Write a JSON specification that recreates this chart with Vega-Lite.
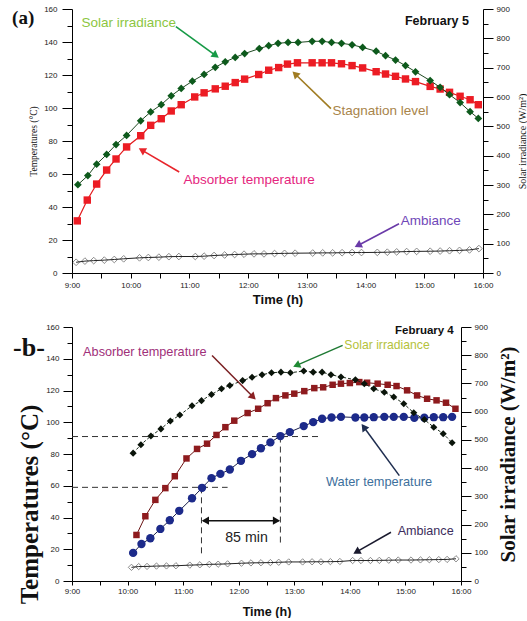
{
"$schema": "https://vega.github.io/schema/vega-lite/v6.json",
"padding": {"left": 12, "top": 5, "right": 0, "bottom": 0},
"spacing": 17,
"config": {"view": {"stroke": null}, "axis": {"grid": false, "domainColor": "#000", "tickColor": "#000", "labelFont": "Liberation Sans", "labelFontSize": 8, "labelColor": "#222", "labelFlush": false, "labelOverlap": false}, "text": {"font": "Liberation Sans"}},
"datasets": {
"ambA": [{"h":9.07,"T":6.5},{"h":9.22,"T":7.2},{"h":9.37,"T":7.5},{"h":9.55,"T":7.8},{"h":9.72,"T":8.2},{"h":9.88,"T":8.6},{"h":10.15,"T":9.2},{"h":10.3,"T":9.4},{"h":10.48,"T":9.6},{"h":10.65,"T":9.9},{"h":10.82,"T":10.0},{"h":11.1,"T":10.0},{"h":11.25,"T":10.2},{"h":11.42,"T":10.6},{"h":11.6,"T":10.9},{"h":11.77,"T":11.2},{"h":11.93,"T":11.4},{"h":12.1,"T":11.6},{"h":12.27,"T":11.6},{"h":12.45,"T":11.8},{"h":12.62,"T":11.9},{"h":12.8,"T":12.0},{"h":13.1,"T":12.1},{"h":13.27,"T":12.2},{"h":13.44,"T":12.2},{"h":13.6,"T":12.3},{"h":13.77,"T":12.4},{"h":13.93,"T":12.4},{"h":14.2,"T":12.5},{"h":14.37,"T":12.6},{"h":14.53,"T":12.8},{"h":14.7,"T":13.0},{"h":14.87,"T":13.1},{"h":15.1,"T":13.2},{"h":15.27,"T":13.3},{"h":15.43,"T":13.5},{"h":15.6,"T":13.7},{"h":15.77,"T":14.0},{"h":15.93,"T":14.8}],
"absA": [{"h":9.09,"T":31.6},{"h":9.26,"T":44.2},{"h":9.42,"T":53.9},{"h":9.59,"T":62.4},{"h":9.75,"T":69.1},{"h":9.93,"T":76.4},{"h":10.17,"T":83.2},{"h":10.34,"T":89.5},{"h":10.52,"T":93.5},{"h":10.69,"T":98.2},{"h":10.86,"T":102},{"h":11.09,"T":106.7},{"h":11.25,"T":109.2},{"h":11.44,"T":111.6},{"h":11.61,"T":113.2},{"h":11.78,"T":115.4},{"h":11.94,"T":117.5},{"h":12.18,"T":120.3},{"h":12.35,"T":122.9},{"h":12.52,"T":124.5},{"h":12.67,"T":126.6},{"h":12.84,"T":127.4},{"h":13.09,"T":127.4},{"h":13.26,"T":127.4},{"h":13.42,"T":127.4},{"h":13.59,"T":126.8},{"h":13.77,"T":125.7},{"h":13.95,"T":124.3},{"h":14.18,"T":122},{"h":14.34,"T":120.6},{"h":14.51,"T":119.2},{"h":14.68,"T":117.6},{"h":14.85,"T":116},{"h":15.1,"T":113.1},{"h":15.27,"T":111.5},{"h":15.43,"T":109.5},{"h":15.61,"T":107.1},{"h":15.78,"T":105},{"h":15.92,"T":102}],
"irrA": [{"h":9.1,"I":301},{"h":9.27,"I":332},{"h":9.42,"I":371},{"h":9.59,"I":404},{"h":9.75,"I":438},{"h":9.93,"I":469},{"h":10.17,"I":519},{"h":10.34,"I":549},{"h":10.52,"I":574},{"h":10.69,"I":604},{"h":10.86,"I":629},{"h":11.05,"I":654},{"h":11.25,"I":677},{"h":11.44,"I":701},{"h":11.61,"I":720},{"h":11.78,"I":735},{"h":11.94,"I":748},{"h":12.19,"I":765},{"h":12.35,"I":775},{"h":12.51,"I":783},{"h":12.68,"I":786},{"h":12.85,"I":786},{"h":13.09,"I":790},{"h":13.26,"I":790},{"h":13.42,"I":786},{"h":13.59,"I":783},{"h":13.77,"I":778},{"h":13.95,"I":769},{"h":14.18,"I":756},{"h":14.34,"I":741},{"h":14.51,"I":726},{"h":14.68,"I":707},{"h":14.85,"I":686},{"h":15.1,"I":656},{"h":15.27,"I":633},{"h":15.43,"I":608},{"h":15.61,"I":581},{"h":15.78,"I":550},{"h":15.92,"I":527}],
"ambB": [{"h":10.07,"T":8.6},{"h":10.2,"T":9.1},{"h":10.35,"T":9.2},{"h":10.52,"T":9.4},{"h":10.7,"T":9.5},{"h":10.87,"T":9.6},{"h":11.12,"T":10.0},{"h":11.3,"T":10.2},{"h":11.47,"T":10.5},{"h":11.63,"T":10.6},{"h":11.8,"T":10.8},{"h":12.05,"T":11.2},{"h":12.22,"T":11.4},{"h":12.4,"T":11.5},{"h":12.57,"T":11.6},{"h":12.72,"T":11.8},{"h":12.9,"T":12.0},{"h":13.15,"T":12.0},{"h":13.32,"T":12.1},{"h":13.48,"T":12.1},{"h":13.65,"T":12.2},{"h":13.82,"T":12.3},{"h":14.05,"T":12.9},{"h":14.2,"T":12.9},{"h":14.37,"T":12.9},{"h":14.53,"T":13.0},{"h":14.7,"T":13.1},{"h":14.87,"T":13.2},{"h":15.1,"T":13.2},{"h":15.27,"T":13.3},{"h":15.43,"T":13.4},{"h":15.6,"T":13.5},{"h":15.75,"T":13.6},{"h":15.91,"T":14.0}],
"absB": [{"h":10.16,"T":29.0},{"h":10.32,"T":40.8},{"h":10.5,"T":51.1},{"h":10.68,"T":58.5},{"h":10.85,"T":66},{"h":11.06,"T":77.2},{"h":11.25,"T":83.2},{"h":11.43,"T":86.5},{"h":11.6,"T":92},{"h":11.76,"T":96.9},{"h":11.92,"T":101},{"h":12.16,"T":105.8},{"h":12.35,"T":108.5},{"h":12.52,"T":112},{"h":12.67,"T":115.2},{"h":12.84,"T":116.9},{"h":13.0,"T":118},{"h":13.18,"T":119.6},{"h":13.36,"T":121.5},{"h":13.52,"T":122},{"h":13.69,"T":123.6},{"h":13.84,"T":124.3},{"h":14.0,"T":124.7},{"h":14.17,"T":125.3},{"h":14.31,"T":124.9},{"h":14.5,"T":124.3},{"h":14.68,"T":123.6},{"h":14.84,"T":122.8},{"h":15.03,"T":120.1},{"h":15.21,"T":116.9},{"h":15.39,"T":114.8},{"h":15.56,"T":113.8},{"h":15.73,"T":112.3},{"h":15.9,"T":108.5}],
"watB": [{"h":10.1,"T":17.7},{"h":10.25,"T":23.3},{"h":10.41,"T":26.9},{"h":10.59,"T":32.8},{"h":10.76,"T":38.3},{"h":10.93,"T":44.2},{"h":11.16,"T":52.1},{"h":11.34,"T":58.7},{"h":11.51,"T":64.8},{"h":11.67,"T":67.5},{"h":11.84,"T":70.2},{"h":12.04,"T":75.7},{"h":12.24,"T":79.9},{"h":12.4,"T":83.6},{"h":12.57,"T":87.3},{"h":12.75,"T":91.3},{"h":12.92,"T":93.8},{"h":13.17,"T":97.6},{"h":13.34,"T":100.1},{"h":13.5,"T":102.2},{"h":13.67,"T":103},{"h":13.84,"T":103.4},{"h":14.1,"T":103},{"h":14.26,"T":103},{"h":14.43,"T":103.2},{"h":14.62,"T":103.4},{"h":14.79,"T":103.4},{"h":14.97,"T":103.4},{"h":15.16,"T":102.8},{"h":15.34,"T":102.8},{"h":15.51,"T":103.2},{"h":15.68,"T":103.2},{"h":15.84,"T":103.4}],
"irrB": [{"h":10.1,"I":453},{"h":10.24,"I":483},{"h":10.42,"I":514},{"h":10.6,"I":539},{"h":10.77,"I":567},{"h":10.94,"I":588},{"h":11.16,"I":621},{"h":11.33,"I":639},{"h":11.51,"I":661},{"h":11.69,"I":681},{"h":11.84,"I":693},{"h":12.07,"I":710},{"h":12.24,"I":722},{"h":12.42,"I":731},{"h":12.59,"I":738},{"h":12.76,"I":740},{"h":12.93,"I":738},{"h":13.17,"I":744},{"h":13.34,"I":740},{"h":13.5,"I":740},{"h":13.66,"I":731},{"h":13.84,"I":723},{"h":14.1,"I":713},{"h":14.26,"I":699},{"h":14.43,"I":681},{"h":14.62,"I":669},{"h":14.79,"I":652},{"h":14.97,"I":628},{"h":15.15,"I":596},{"h":15.34,"I":572},{"h":15.51,"I":545},{"h":15.68,"I":522},{"h":15.84,"I":490}]
},
"vconcat": [
{
"width": 411, "height": 264,
"resolve": {"scale": {"y": "independent"}},
"layer": [
{"layer": [
{"data": {"name": "ambA"}, "mark": {"type": "line", "color": "#222", "strokeWidth": 1},
 "encoding": {
  "x": {"field": "h", "type": "quantitative", "scale": {"domain": [9, 16]}, "axis": {"title": "Time (h)", "tickCount": 200, "values": [9,9.5,10,10.5,11,11.5,12,12.5,13,13.5,14,14.5,15,15.5,16], "labelExpr": "datum.value % 1 === 0 ? datum.value + ':00' : ''", "labelOverlap": false, "tickSize": 5, "labelPadding": 3, "titleFont": "Liberation Sans", "titleFontWeight": "bold", "titleFontSize": 13, "titlePadding": 4, "titleColor": "#111"}},
  "y": {"field": "T", "type": "quantitative", "scale": {"domain": [0, 160]}, "axis": {"title": "Temperatures (°C)", "tickCount": 200, "values": [0,10,20,30,40,50,60,70,80,90,100,110,120,130,140,150,160], "labelExpr": "datum.value % 20 === 0 ? datum.label : ''", "labelOverlap": false, "tickSize": {"condition": {"test": "datum.value % 20 === 0", "value": 10}, "value": 5}, "labelPadding": 5, "titleFont": "Liberation Serif", "titleFontWeight": "normal", "titleFontSize": 9.5, "titlePadding": 5, "titleColor": "#111"}}
 }},
{"data": {"name": "ambA"}, "mark": {"type": "point", "shape": "diamond", "filled": false, "color": "#333", "size": 45, "strokeWidth": 0.8},
 "encoding": {"x": {"field": "h", "type": "quantitative"}, "y": {"field": "T", "type": "quantitative"}}},
{"data": {"name": "absA"}, "mark": {"type": "line", "color": "#e3191c", "strokeWidth": 1.2},
 "encoding": {"x": {"field": "h", "type": "quantitative"}, "y": {"field": "T", "type": "quantitative"}}},
{"data": {"name": "absA"}, "mark": {"type": "square", "color": "#ec1c24", "size": 55, "opacity": 1},
 "encoding": {"x": {"field": "h", "type": "quantitative"}, "y": {"field": "T", "type": "quantitative"}}},
{"data": {"values": [{"h": 10.77, "T": 149.3, "h2": 11.45, "T2": 131.8}]}, "mark": {"type": "rule", "strokeWidth": 1.6, "color": "#169a46"},
 "encoding": {"x": {"field": "h", "type": "quantitative"}, "y": {"field": "T", "type": "quantitative"}, "x2": {"field": "h2"}, "y2": {"field": "T2"}}},
{"data": {"values": [{"h": 13.41, "T": 99.6, "h2": 12.8, "T2": 120.6}]}, "mark": {"type": "rule", "strokeWidth": 1.6, "color": "#a07c22"},
 "encoding": {"x": {"field": "h", "type": "quantitative"}, "y": {"field": "T", "type": "quantitative"}, "x2": {"field": "h2"}, "y2": {"field": "T2"}}},
{"data": {"values": [{"h": 10.826, "T": 61.2, "h2": 10.19, "T2": 74.5}]}, "mark": {"type": "rule", "strokeWidth": 1.6, "color": "#e8252b"},
 "encoding": {"x": {"field": "h", "type": "quantitative"}, "y": {"field": "T", "type": "quantitative"}, "x2": {"field": "h2"}, "y2": {"field": "T2"}}},
{"data": {"values": [{"h": 14.57, "T": 29.8, "h2": 13.87, "T2": 16.7}]}, "mark": {"type": "rule", "strokeWidth": 1.6, "color": "#6a3aa8"},
 "encoding": {"x": {"field": "h", "type": "quantitative"}, "y": {"field": "T", "type": "quantitative"}, "x2": {"field": "h2"}, "y2": {"field": "T2"}}},
{"data": {"values": [{"h": 11.45, "T": 131.8}]}, "mark": {"type": "point", "shape": "triangle-up", "filled": true, "color": "#169a46", "size": 70, "angle": 125.6, "opacity": 1},
 "encoding": {"x": {"field": "h", "type": "quantitative"}, "y": {"field": "T", "type": "quantitative"}}},
{"data": {"values": [{"h": 12.8, "T": 120.6}]}, "mark": {"type": "point", "shape": "triangle-up", "filled": true, "color": "#a07c22", "size": 70, "angle": 314, "opacity": 1},
 "encoding": {"x": {"field": "h", "type": "quantitative"}, "y": {"field": "T", "type": "quantitative"}}},
{"data": {"values": [{"h": 10.19, "T": 74.5}]}, "mark": {"type": "point", "shape": "triangle-up", "filled": true, "color": "#e8252b", "size": 70, "angle": 300.5, "opacity": 1},
 "encoding": {"x": {"field": "h", "type": "quantitative"}, "y": {"field": "T", "type": "quantitative"}}},
{"data": {"values": [{"h": 13.87, "T": 16.7}]}, "mark": {"type": "point", "shape": "triangle-up", "filled": true, "color": "#6a3aa8", "size": 70, "angle": 242.6, "opacity": 1},
 "encoding": {"x": {"field": "h", "type": "quantitative"}, "y": {"field": "T", "type": "quantitative"}}},
{"data": {"values": [{"h": 9.16, "T": 151.3, "label": "Solar irradiance"}]}, "mark": {"type": "text", "align": "left", "baseline": "middle", "fontSize": 13.5, "color": "#8cc63f"},
 "encoding": {"x": {"field": "h", "type": "quantitative"}, "y": {"field": "T", "type": "quantitative"}, "text": {"field": "label"}}},
{"data": {"values": [{"h": 15.76, "T": 153, "label": "February 5"}]}, "mark": {"type": "text", "align": "right", "baseline": "middle", "fontSize": 12.5, "fontWeight": "bold", "color": "#111"},
 "encoding": {"x": {"field": "h", "type": "quantitative"}, "y": {"field": "T", "type": "quantitative"}, "text": {"field": "label"}}},
{"data": {"values": [{"h": 13.435, "T": 97.9, "label": "Stagnation level"}]}, "mark": {"type": "text", "align": "left", "baseline": "middle", "fontSize": 13.5, "color": "#a8844a"},
 "encoding": {"x": {"field": "h", "type": "quantitative"}, "y": {"field": "T", "type": "quantitative"}, "text": {"field": "label"}}},
{"data": {"values": [{"h": 10.9, "T": 56.5, "label": "Absorber temperature"}]}, "mark": {"type": "text", "align": "left", "baseline": "middle", "fontSize": 13.5, "color": "#e5267e"},
 "encoding": {"x": {"field": "h", "type": "quantitative"}, "y": {"field": "T", "type": "quantitative"}, "text": {"field": "label"}}},
{"data": {"values": [{"h": 14.6, "T": 31.8, "label": "Ambiance"}]}, "mark": {"type": "text", "align": "left", "baseline": "middle", "fontSize": 13.5, "color": "#7048b8"},
 "encoding": {"x": {"field": "h", "type": "quantitative"}, "y": {"field": "T", "type": "quantitative"}, "text": {"field": "label"}}},
{"data": {"values": [{"h": 7.98, "T": 154.3, "label": "(a)"}]}, "mark": {"type": "text", "align": "left", "baseline": "middle", "fontSize": 19, "fontWeight": "bold", "font": "Liberation Serif", "color": "#111"},
 "encoding": {"x": {"field": "h", "type": "quantitative"}, "y": {"field": "T", "type": "quantitative"}, "text": {"field": "label"}}}
]},
{"layer": [
{"data": {"name": "irrA"}, "mark": {"type": "line", "color": "#1f4a22", "strokeWidth": 1},
 "encoding": {"x": {"field": "h", "type": "quantitative"},
  "y": {"field": "I", "type": "quantitative", "scale": {"domain": [0, 900]}, "axis": {"orient": "right", "title": "Solar irradiance (W/m²)", "titleAngle": 270, "titleBaseline": "top", "tickCount": 200, "values": [0,50,100,150,200,250,300,350,400,450,500,550,600,650,700,750,800,850,900], "labelExpr": "datum.value % 100 === 0 ? datum.label : ''", "labelOverlap": false, "tickSize": {"condition": {"test": "datum.value % 100 === 0", "value": 10}, "value": 5}, "labelPadding": 3, "titleFont": "Liberation Serif", "titleFontWeight": "normal", "titleFontSize": 10, "titlePadding": 8, "titleColor": "#111"}}}},
{"data": {"name": "irrA"}, "mark": {"type": "point", "shape": "diamond", "filled": true, "color": "#0d5a1c", "size": 60, "opacity": 1},
 "encoding": {"x": {"field": "h", "type": "quantitative"}, "y": {"field": "I", "type": "quantitative"}}}
]}
]
},
{
"width": 389, "height": 254,
"resolve": {"scale": {"y": "independent"}},
"layer": [
{"layer": [
{"data": {"values": [{"h": 9, "T": 91, "h2": 13.47, "T2": 91}, {"h": 9, "T": 59, "h2": 11.8, "T2": 59}, {"h": 11.33, "T": 59, "h2": 11.33, "T2": 16}, {"h": 12.75, "T": 91, "h2": 12.75, "T2": 23.3}]},
 "mark": {"type": "rule", "color": "#333", "strokeWidth": 1, "strokeDash": [6, 4]},
 "encoding": {
  "x": {"field": "h", "type": "quantitative", "scale": {"domain": [9, 16]}, "axis": {"title": "Time (h)", "tickCount": 200, "values": [9,9.5,10,10.5,11,11.5,12,12.5,13,13.5,14,14.5,15,15.5,16], "labelExpr": "datum.value % 1 === 0 ? datum.value + ':00' : ''", "labelOverlap": false, "tickSize": 4, "labelPadding": 2, "titleFont": "Liberation Sans", "titleFontWeight": "bold", "titleFontSize": 12.6, "titlePadding": 10, "titleColor": "#111"}},
  "y": {"field": "T", "type": "quantitative", "scale": {"domain": [0, 160]}, "axis": {"title": "Temperatures (°C)", "tickCount": 200, "values": [0,10,20,30,40,50,60,70,80,90,100,110,120,130,140,150,160], "labelExpr": "datum.value % 20 === 0 ? datum.label : ''", "labelOverlap": false, "tickSize": {"condition": {"test": "datum.value % 20 === 0", "value": 9}, "value": 5}, "labelPadding": 4, "titleFont": "Liberation Serif", "titleFontWeight": "bold", "titleFontSize": 25, "titlePadding": 3, "titleY": 177, "titleColor": "#111"}},
  "x2": {"field": "h2"}, "y2": {"field": "T2"}
 }},
{"data": {"name": "ambB"}, "mark": {"type": "line", "color": "#222", "strokeWidth": 1},
 "encoding": {"x": {"field": "h", "type": "quantitative"}, "y": {"field": "T", "type": "quantitative"}}},
{"data": {"name": "ambB"}, "mark": {"type": "point", "shape": "diamond", "filled": false, "color": "#333", "size": 40, "strokeWidth": 0.8},
 "encoding": {"x": {"field": "h", "type": "quantitative"}, "y": {"field": "T", "type": "quantitative"}}},
{"data": {"name": "absB"}, "mark": {"type": "line", "color": "#6b1414", "strokeWidth": 1},
 "encoding": {"x": {"field": "h", "type": "quantitative"}, "y": {"field": "T", "type": "quantitative"}}},
{"data": {"name": "absB"}, "mark": {"type": "square", "color": "#8e1b1e", "size": 42, "opacity": 1},
 "encoding": {"x": {"field": "h", "type": "quantitative"}, "y": {"field": "T", "type": "quantitative"}}},
{"data": {"name": "watB"}, "mark": {"type": "line", "color": "#1a1f4a", "strokeWidth": 1},
 "encoding": {"x": {"field": "h", "type": "quantitative"}, "y": {"field": "T", "type": "quantitative"}}},
{"data": {"name": "watB"}, "mark": {"type": "circle", "color": "#1c2a8a", "size": 70, "opacity": 1},
 "encoding": {"x": {"field": "h", "type": "quantitative"}, "y": {"field": "T", "type": "quantitative"}}},
{"data": {"values": [{"h": 11.52, "T": 142.1, "h2": 12.26, "T2": 115.9}]}, "mark": {"type": "rule", "strokeWidth": 1.5, "color": "#7a1f22"},
 "encoding": {"x": {"field": "h", "type": "quantitative"}, "y": {"field": "T", "type": "quantitative"}, "x2": {"field": "h2"}, "y2": {"field": "T2"}}},
{"data": {"values": [{"h": 13.87, "T": 148.4, "h2": 13.04, "T2": 135.8}]}, "mark": {"type": "rule", "strokeWidth": 1.5, "color": "#1f7a34"},
 "encoding": {"x": {"field": "h", "type": "quantitative"}, "y": {"field": "T", "type": "quantitative"}, "x2": {"field": "h2"}, "y2": {"field": "T2"}}},
{"data": {"values": [{"h": 14.89, "T": 66.4, "h2": 14.25, "T2": 97.0}]}, "mark": {"type": "rule", "strokeWidth": 1.5, "color": "#1e2d4f"},
 "encoding": {"x": {"field": "h", "type": "quantitative"}, "y": {"field": "T", "type": "quantitative"}, "x2": {"field": "h2"}, "y2": {"field": "T2"}}},
{"data": {"values": [{"h": 14.74, "T": 30.7, "h2": 14.12, "T2": 18.3}]}, "mark": {"type": "rule", "strokeWidth": 1.5, "color": "#1a1a2e"},
 "encoding": {"x": {"field": "h", "type": "quantitative"}, "y": {"field": "T", "type": "quantitative"}, "x2": {"field": "h2"}, "y2": {"field": "T2"}}},
{"data": {"values": [{"h": 11.36, "T": 38, "h2": 12.72, "T2": 38}]}, "mark": {"type": "rule", "strokeWidth": 1.5, "color": "#111"},
 "encoding": {"x": {"field": "h", "type": "quantitative"}, "y": {"field": "T", "type": "quantitative"}, "x2": {"field": "h2"}, "y2": {"field": "T2"}}},
{"data": {"values": [{"h": 12.26, "T": 115.9}]}, "mark": {"type": "point", "shape": "triangle-up", "filled": true, "color": "#8a1f22", "size": 70, "angle": 135, "opacity": 1},
 "encoding": {"x": {"field": "h", "type": "quantitative"}, "y": {"field": "T", "type": "quantitative"}}},
{"data": {"values": [{"h": 13.04, "T": 135.8}]}, "mark": {"type": "point", "shape": "triangle-up", "filled": true, "color": "#1f8a34", "size": 70, "angle": 246.6, "opacity": 1},
 "encoding": {"x": {"field": "h", "type": "quantitative"}, "y": {"field": "T", "type": "quantitative"}}},
{"data": {"values": [{"h": 14.25, "T": 97.0}]}, "mark": {"type": "point", "shape": "triangle-up", "filled": true, "color": "#1e2d4f", "size": 70, "angle": 323.5, "opacity": 1},
 "encoding": {"x": {"field": "h", "type": "quantitative"}, "y": {"field": "T", "type": "quantitative"}}},
{"data": {"values": [{"h": 14.12, "T": 18.3}]}, "mark": {"type": "point", "shape": "triangle-up", "filled": true, "color": "#1a1a2e", "size": 70, "angle": 240.5, "opacity": 1},
 "encoding": {"x": {"field": "h", "type": "quantitative"}, "y": {"field": "T", "type": "quantitative"}}},
{"data": {"values": [{"h": 11.4, "T": 38}]}, "mark": {"type": "point", "shape": "triangle-up", "filled": true, "color": "#111", "size": 70, "angle": 270, "opacity": 1},
 "encoding": {"x": {"field": "h", "type": "quantitative"}, "y": {"field": "T", "type": "quantitative"}}},
{"data": {"values": [{"h": 12.68, "T": 38}]}, "mark": {"type": "point", "shape": "triangle-up", "filled": true, "color": "#111", "size": 70, "angle": 90, "opacity": 1},
 "encoding": {"x": {"field": "h", "type": "quantitative"}, "y": {"field": "T", "type": "quantitative"}}},
{"data": {"values": [{"h": 12.14, "T": 26.9, "label": "85 min"}]}, "mark": {"type": "text", "align": "center", "baseline": "middle", "fontSize": 14.2, "color": "#222"},
 "encoding": {"x": {"field": "h", "type": "quantitative"}, "y": {"field": "T", "type": "quantitative"}, "text": {"field": "label"}}},
{"data": {"values": [{"h": 9.2, "T": 144.2, "label": "Absorber temperature"}]}, "mark": {"type": "text", "align": "left", "baseline": "middle", "fontSize": 12.7, "color": "#a0307a"},
 "encoding": {"x": {"field": "h", "type": "quantitative"}, "y": {"field": "T", "type": "quantitative"}, "text": {"field": "label"}}},
{"data": {"values": [{"h": 13.9, "T": 148.6, "label": "Solar irradiance"}]}, "mark": {"type": "text", "align": "left", "baseline": "middle", "fontSize": 12.2, "color": "#b5c23a"},
 "encoding": {"x": {"field": "h", "type": "quantitative"}, "y": {"field": "T", "type": "quantitative"}, "text": {"field": "label"}}},
{"data": {"values": [{"h": 15.87, "T": 157.4, "label": "February 4"}]}, "mark": {"type": "text", "align": "right", "baseline": "middle", "fontSize": 11.5, "fontWeight": "bold", "color": "#111"},
 "encoding": {"x": {"field": "h", "type": "quantitative"}, "y": {"field": "T", "type": "quantitative"}, "text": {"field": "label"}}},
{"data": {"values": [{"h": 13.57, "T": 62.6, "label": "Water temperature"}]}, "mark": {"type": "text", "align": "left", "baseline": "middle", "fontSize": 12.8, "color": "#3d6f9c"},
 "encoding": {"x": {"field": "h", "type": "quantitative"}, "y": {"field": "T", "type": "quantitative"}, "text": {"field": "label"}}},
{"data": {"values": [{"h": 14.86, "T": 31.7, "label": "Ambiance"}]}, "mark": {"type": "text", "align": "left", "baseline": "middle", "fontSize": 12.6, "color": "#3c2d5c"},
 "encoding": {"x": {"field": "h", "type": "quantitative"}, "y": {"field": "T", "type": "quantitative"}, "text": {"field": "label"}}},
{"data": {"values": [{"h": 7.94, "T": 146.5, "label": "-b-"}]}, "mark": {"type": "text", "align": "left", "baseline": "middle", "fontSize": 26, "fontWeight": "bold", "font": "Liberation Serif", "color": "#111"},
 "encoding": {"x": {"field": "h", "type": "quantitative"}, "y": {"field": "T", "type": "quantitative"}, "text": {"field": "label"}}}
]},
{"layer": [
{"data": {"name": "irrB"}, "mark": {"type": "line", "color": "#1a2a1a", "strokeWidth": 1, "strokeDash": [3, 2]},
 "encoding": {"x": {"field": "h", "type": "quantitative"},
  "y": {"field": "I", "type": "quantitative", "scale": {"domain": [0, 900]}, "axis": {"orient": "right", "title": "Solar irradiance (W/m²)", "titleAngle": 270, "titleBaseline": "top", "tickCount": 200, "values": [0,50,100,150,200,250,300,350,400,450,500,550,600,650,700,750,800,850,900], "labelExpr": "datum.value % 100 === 0 ? datum.label : ''", "labelOverlap": false, "tickSize": {"condition": {"test": "datum.value % 100 === 0", "value": 10}, "value": 5}, "labelPadding": 3, "titleFont": "Liberation Serif", "titleFontWeight": "bold", "titleFontSize": 21, "titlePadding": 10, "titleColor": "#111"}}}},
{"data": {"name": "irrB"}, "mark": {"type": "point", "shape": "diamond", "filled": true, "color": "#0a140a", "size": 50, "opacity": 1},
 "encoding": {"x": {"field": "h", "type": "quantitative"}, "y": {"field": "I", "type": "quantitative"}}}
]}
]
}
]
}
